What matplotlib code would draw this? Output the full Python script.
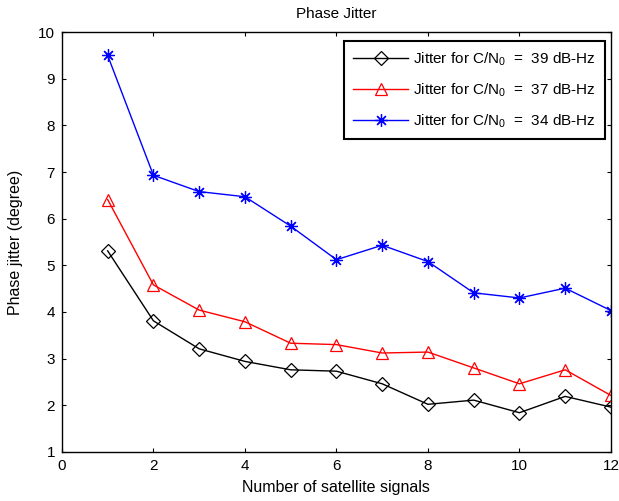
import matplotlib
matplotlib.use("Agg")
import matplotlib.pyplot as plt

plt.rcParams['font.family'] = ['Liberation Sans', 'DejaVu Sans']
plt.rcParams['mathtext.fontset'] = 'custom'
plt.rcParams['mathtext.rm'] = 'Liberation Sans'
plt.rcParams['mathtext.it'] = 'Liberation Sans'

signals = [1, 2, 3, 4, 5, 6, 7, 8, 9, 10, 11, 12]
jitter_39 = [5.31, 3.81, 3.21, 2.94, 2.76, 2.73, 2.46, 2.02, 2.11, 1.84, 2.19, 1.96]
jitter_37 = [6.41, 4.58, 4.04, 3.79, 3.33, 3.30, 3.12, 3.14, 2.80, 2.46, 2.76, 2.21]
jitter_34 = [9.50, 6.93, 6.58, 6.47, 5.84, 5.12, 5.43, 5.08, 4.41, 4.30, 4.51, 4.03]
labels = ['Jitter for C/N$_0$  =  39 dB-Hz',
          'Jitter for C/N$_0$  =  37 dB-Hz',
          'Jitter for C/N$_0$  =  34 dB-Hz']
xticks = [0, 2, 4, 6, 8, 10, 12]
yticks = [1, 2, 3, 4, 5, 6, 7, 8, 9, 10]

FS = 11

fig = plt.figure(figsize=(6.19, 5.01), dpi=100)
ax = fig.add_axes([0.1, 0.098, 0.887, 0.838])

ax.plot(signals, jitter_39, color='black', lw=1.0, marker='D', ms=7,
        mfc='none', mec='black', mew=0.9, label=labels[0])
ax.plot(signals, jitter_37, color='red', lw=1.0, marker='^', ms=9,
        mfc='none', mec='red', mew=0.9, label=labels[1])
ax.plot(signals, jitter_34, color='blue', lw=1.0, marker=(8, 2, 0), ms=9,
        mec='blue', mew=0.9, label=labels[2])

ax.set_xlim(0, 12)
ax.set_ylim(1, 10)
ax.set_xticks(xticks)
ax.set_yticks(yticks)
ax.tick_params(direction='in', top=True, right=True, labelsize=FS, length=3,
               width=0.8, pad=5)
for s in ax.spines.values():
    s.set_linewidth(1.0)

ax.set_title('Phase Jitter', fontsize=FS, pad=10)
ax.set_xlabel('Number of satellite signals', fontsize=11.5, labelpad=5)
ax.set_ylabel('Phase jitter (degree)', fontsize=11.5, labelpad=11)

leg = ax.legend(loc='upper right', fontsize=FS, fancybox=False, framealpha=1,
                edgecolor='black', handlelength=3.6, handletextpad=0.3,
                borderpad=0.6, labelspacing=0.9, borderaxespad=0,
                bbox_to_anchor=(0.989, 0.978))
leg.get_frame().set_linewidth(1.5)

fig.savefig('out.png', dpi=100)
